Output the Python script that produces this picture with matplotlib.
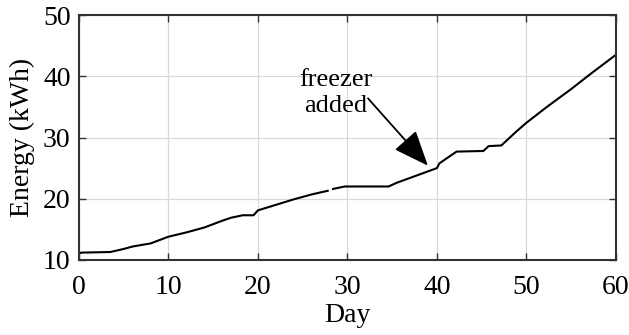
import numpy as np
import matplotlib.pyplot as plt

plt.rcParams.update({"font.family": "Liberation Serif", "font.size": 20})

# cumulative energy readings (NaN = gap in the trace)
day = [0, 0.3, 3.5, 5, 6, 8, 10, 12, 14, 16, 17, 18.3, 19.5, 20, 22, 24, 26, 27.8,
       28.1, 28.4, 29.7, 34.6, 35.5, 37, 38.5, 40, 40.3, 40.8, 41.5, 42.2, 45.2,
       45.8, 47.2, 48.9, 50, 52.3, 55, 57.1, 60]
energy = [11.1, 11.2, 11.3, 11.8, 12.2, 12.7, 13.8, 14.5, 15.3, 16.4, 16.9, 17.3,
          17.3, 18.1, 19.0, 19.9, 20.7, 21.3, np.nan, 21.6, 22.0, 22.0, 22.6, 23.4,
          24.2, 25.0, 25.8, 26.3, 27.0, 27.7, 27.8, 28.6, 28.7, 31.0, 32.4, 35.0,
          37.9, 40.3, 43.5]

fig, ax = plt.subplots(figsize=(6.29, 3.35), dpi=100)
fig.subplots_adjust(left=0.1256, right=0.979, top=0.955, bottom=0.224)

ax.plot(day, energy, color="black", lw=1.5)

ax.text(28.7, 37.3, "freezer\nadded", ha="center", va="center",
        fontsize=19, linespacing=1.25)
ax.annotate("", xy=(39.0, 25.4), xytext=(32.3, 36.4),
            arrowprops=dict(arrowstyle="-|>,head_length=1.1,head_width=0.45",
                            color="black", lw=1.3, shrinkA=0, shrinkB=0))

ax.set_xlim(0, 60)
ax.set_ylim(10, 50)
ax.set_xticks(np.arange(0, 61, 10))
ax.set_yticks(np.arange(10, 51, 10))
ax.grid(True, color="#d9d9d9", lw=0.9)
ax.tick_params(direction="in", top=True, right=True, length=5, width=1,
               color="#333333", pad=6)
ax.tick_params(axis="x", pad=11)
for sp in ax.spines.values():
    sp.set_linewidth(1.5)
    sp.set_color("#333333")

ax.set_xlabel("Day", labelpad=2)
ax.set_ylabel("Energy (kWh)", labelpad=6)

fig.savefig("out.png", dpi=100)
